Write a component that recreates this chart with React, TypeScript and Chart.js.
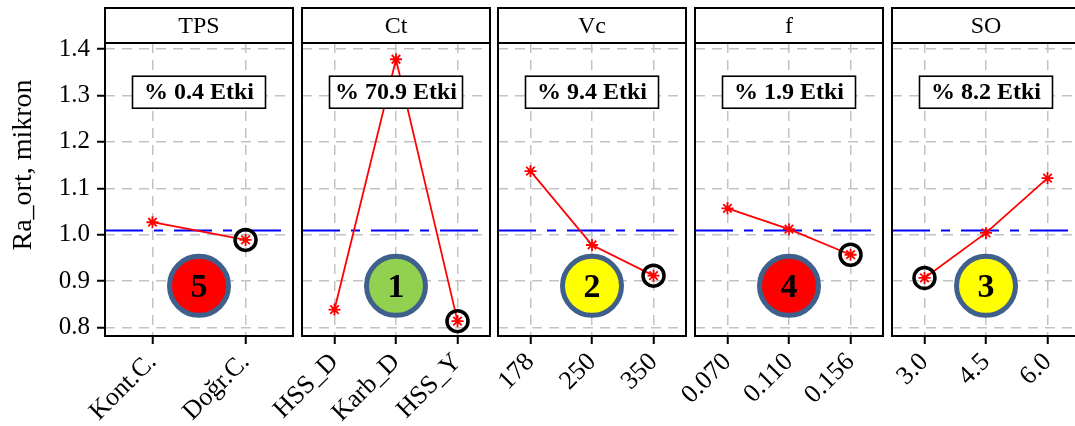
import React, { useEffect, useRef } from "react";
import { Chart, registerables } from "chart.js";

Chart.register(...registerables);

// ---------- data ----------
const factorNames = ["TPS", "Ct", "Vc", "f", "SO"];
const tpsLevels = ["Kont.C.", "Doğr.C."];
const tpsMeans = [1.027, 0.989];
const ctLevels = ["HSS_D", "Karb_D", "HSS_Y"];
const ctMeans = [0.839, 1.378, 0.814];
const vcLevels = ["178", "250", "350"];
const vcMeans = [1.137, 0.978, 0.912];
const fLevels = ["0.070", "0.110", "0.156"];
const fMeans = [1.057, 1.012, 0.957];
const soLevels = ["3.0", "4.5", "6.0"];
const soMeans = [0.907, 1.004, 1.122];
const effectPercents = [0.4, 70.9, 9.4, 1.9, 8.2];
const ranks = [5, 1, 2, 4, 3];
const grandMean = 1.009;
const yTickValues = [0.8, 0.9, 1.0, 1.1, 1.2, 1.3, 1.4];
const yTitle = "Ra_ort, mikron";

const panelLevels = [tpsLevels, ctLevels, vcLevels, fLevels, soLevels];
const panelMeans = [tpsMeans, ctMeans, vcMeans, fMeans, soMeans];

// ---------- styles / layout ----------
const FONT = "'Liberation Serif', 'Times New Roman', serif";
const rankFill: Record<number, string> = {
  1: "#92D050",
  2: "#FFFF00",
  3: "#FFFF00",
  4: "#FF0000",
  5: "#FF0000",
};
const CANVAS_W = 1100;
const H = 426;
const panelLeft = [105, 302, 498, 695, 892];
const PANEL_W = 188;
const AREA_TOP = 43;
const AREA_BOTTOM = 336;
const STRIP_TOP = 8;
const Y_MIN = 0.782;
const Y_MAX = 1.413;
const LABEL_Y = 1.307;
const BADGE_Y = 0.89;
const GRID_COLOR = "#C3C3C3";
const GRID_DASH = [10, 7];

function Panel({ index }: { index: number }) {
  const ref = useRef<HTMLCanvasElement | null>(null);
  useEffect(() => {
    const levels = panelLevels[index];
    const means = panelMeans[index];
    const n = levels.length;
    const pad = n === 2 ? 0.51 : 0.528;
    const xMin = -pad;
    const xMax = n - 1 + pad;
    const minVal = Math.min(...means);
    const minIdx = means.indexOf(minVal);
    const first = index === 0;

    const decor = {
      id: "decor" + index,
      afterDatasetsDraw(chart: any) {
        const { ctx, scales } = chart;
        const cx = scales.x.getPixelForValue((xMin + xMax) / 2);
        // effect label box
        const ly = scales.y.getPixelForValue(LABEL_Y);
        const bw = 133;
        const bh = 32;
        ctx.save();
        ctx.fillStyle = "#FFFFFF";
        ctx.fillRect(cx - bw / 2, ly - bh / 2, bw, bh);
        ctx.strokeStyle = "#000";
        ctx.lineWidth = 1.6;
        ctx.strokeRect(cx - bw / 2, ly - bh / 2, bw, bh);
        ctx.fillStyle = "#000";
        ctx.font = `bold 24px ${FONT}`;
        ctx.textAlign = "center";
        ctx.textBaseline = "middle";
        ctx.fillText(`% ${effectPercents[index].toFixed(1)} Etki`, cx, ly + 1);
        // rank badge
        const by = scales.y.getPixelForValue(BADGE_Y);
        ctx.beginPath();
        ctx.arc(cx, by, 29.5, 0, Math.PI * 2);
        ctx.fillStyle = rankFill[ranks[index]];
        ctx.fill();
        ctx.lineWidth = 5;
        ctx.strokeStyle = "#3F5F8C";
        ctx.stroke();
        ctx.fillStyle = "#000";
        ctx.font = `bold 34px ${FONT}`;
        ctx.fillText(String(ranks[index]), cx, by + 2);
        ctx.restore();
      },
      afterDraw(chart: any) {
        const { ctx, chartArea } = chart;
        const w = chartArea.right - chartArea.left;
        ctx.save();
        ctx.strokeStyle = "#000";
        ctx.lineWidth = 2;
        ctx.strokeRect(chartArea.left, chartArea.top, w, chartArea.bottom - chartArea.top);
        // strip
        ctx.fillStyle = "#FFFFFF";
        ctx.fillRect(chartArea.left, STRIP_TOP, w, chartArea.top - STRIP_TOP);
        ctx.strokeRect(chartArea.left, STRIP_TOP, w, chartArea.top - STRIP_TOP);
        ctx.fillStyle = "#000";
        ctx.font = `24px ${FONT}`;
        ctx.textAlign = "center";
        ctx.textBaseline = "middle";
        ctx.fillText(factorNames[index], chartArea.left + w / 2, (STRIP_TOP + chartArea.top) / 2 + 1);
        if (first) {
          ctx.translate(31, 165);
          ctx.rotate(-Math.PI / 2);
          ctx.font = `28px ${FONT}`;
          ctx.textBaseline = "alphabetic";
          ctx.fillText(yTitle, 0, 0);
        }
        ctx.restore();
      },
    };

    const chart = new Chart(ref.current as HTMLCanvasElement, {
      type: "line",
      data: {
        datasets: [
          {
            data: [{ x: minIdx, y: minVal }],
            showLine: false,
            pointStyle: "circle",
            pointRadius: 10.5,
            pointBorderWidth: 3.5,
            pointBorderColor: "#000",
            pointBackgroundColor: "rgba(0,0,0,0)",
          },
          {
            data: means.map((y, i) => ({ x: i, y })),
            borderColor: "#FF0000",
            borderWidth: 1.8,
            pointStyle: "star",
            pointRadius: 6,
            pointBorderColor: "#FF0000",
            pointBorderWidth: 1.8,
            tension: 0,
          },
          {
            data: [
              { x: xMin, y: grandMean },
              { x: xMax, y: grandMean },
            ],
            borderColor: "#0000FF",
            borderWidth: 2,
            borderDash: [38, 11, 9, 11],
            pointRadius: 0,
          },
        ],
      } as any,
      options: {
        responsive: false,
        animation: false,
        devicePixelRatio: 1,
        layout: {
          padding: {
            left: first ? 0 : panelLeft[index],
            right: CANVAS_W - panelLeft[index] - PANEL_W,
            top: AREA_TOP,
            bottom: 0,
          },
        },
        plugins: {
          legend: { display: false },
          tooltip: { enabled: false },
        },
        scales: {
          x: {
            type: "linear",
            min: xMin,
            max: xMax,
            afterBuildTicks: (s: any) => {
              s.ticks = levels.map((_, i) => ({ value: i }));
            },
            afterFit: (s: any) => {
              s.height = H - AREA_BOTTOM;
            },
            ticks: {
              callback: (_v: any, i: number) => levels[i],
              autoSkip: false,
              minRotation: 45,
              maxRotation: 45,
              font: { family: FONT, size: 26 },
              color: "#000",
              padding: 3,
            },
            grid: {
              color: GRID_COLOR,
              lineWidth: 1.5,
              tickColor: "#000",
              tickWidth: 2,
              tickLength: 8,
              tickBorderDash: [1, 0],
            },
            border: { display: false, dash: GRID_DASH },
          },
          y: {
            type: "linear",
            min: Y_MIN,
            max: Y_MAX,
            afterBuildTicks: (s: any) => {
              s.ticks = yTickValues.map((v) => ({ value: v }));
            },
            afterFit: (s: any) => {
              s.width = first ? panelLeft[0] : 0;
            },
            ticks: {
              display: first,
              callback: (v: any) => Number(v).toFixed(1),
              font: { family: FONT, size: 25 },
              color: "#000",
              padding: 7,
            },
            grid: {
              color: GRID_COLOR,
              lineWidth: 1.5,
              drawTicks: first,
              tickColor: "#000",
              tickWidth: 2,
              tickLength: 8,
              tickBorderDash: [1, 0],
            },
            border: { display: false, dash: GRID_DASH },
          },
        },
      } as any,
      plugins: [decor],
    });
    return () => chart.destroy();
  }, [index]);

  return (
    <canvas
      ref={ref}
      width={CANVAS_W}
      height={H}
      style={{ position: "absolute", left: 0, top: 0, width: CANVAS_W, height: H }}
    />
  );
}

export default function App() {
  return (
    <div
      style={{
        position: "absolute",
        left: 0,
        top: 0,
        width: 1075,
        height: H,
        overflow: "hidden",
        background: "#FFFFFF",
      }}
    >
      {factorNames.map((_, i) => (
        <Panel key={i} index={i} />
      ))}
    </div>
  );
}
